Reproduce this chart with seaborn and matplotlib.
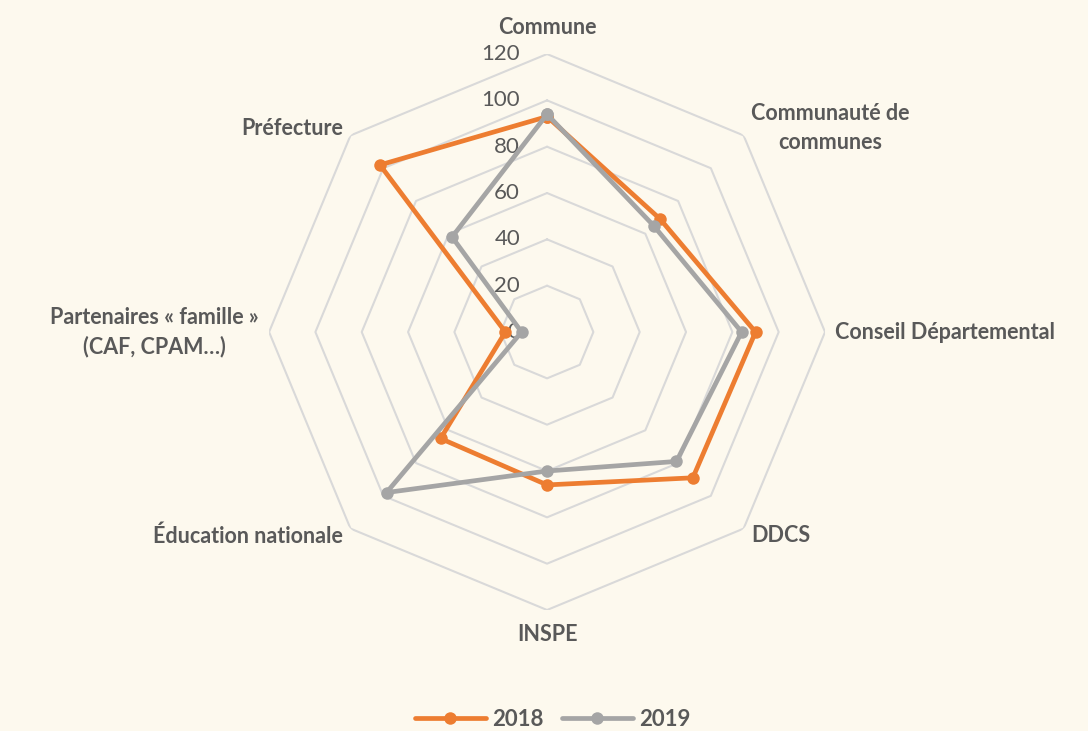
import numpy as np
import pandas as pd
import matplotlib
matplotlib.use("Agg")
import matplotlib.pyplot as plt
import matplotlib.transforms as mtransforms
import seaborn as sns

# ==========================================
# DATA
# ==========================================

categories = [
    "Commune",
    "Communauté de\ncommunes",
    "Conseil Départemental",
    "DDCS",
    "INSPE",
    "Éducation nationale",
    "Partenaires « famille »\n(CAF, CPAM…)",
    "Préfecture",
]
values_2018 = [93, 69, 90, 89, 66, 65, 18, 102]
values_2019 = [94, 65, 84, 79, 60, 98, 11, 58]
years = ["2018", "2019"]
ticks = [0, 20, 40, 60, 80, 100, 120]

# ==========================================
# STYLE
# ==========================================

bg = "#FDF9EE"
txt = "#595959"
grid_col = "#D9D9D9"
palette = {"2018": "#ED7D31", "2019": "#A5A5A5"}

sns.set_theme(style="white")
plt.rcParams["font.family"] = ["Lato", "DejaVu Sans"]

n = len(categories)
angles = np.linspace(0, 2 * np.pi, n, endpoint=False)

rows = []
for year, vals in zip(years, [values_2018, values_2019]):
    for a, v in zip(list(angles) + [2 * np.pi], vals + vals[:1]):
        rows.append({"theta": a, "value": v, "year": year})
df = pd.DataFrame(rows)

fig = plt.figure(figsize=(10.88, 7.31), dpi=100, facecolor=bg)
ax = fig.add_axes([0.2473, 0.1655, 0.511, 0.7606], projection="polar")
ax.set_facecolor(bg)
ax.set_theta_offset(np.pi / 2)
ax.set_theta_direction(-1)

# octagon grid
for t in ticks[1:]:
    ax.plot(list(angles) + [angles[0]], [t] * (n + 1), color=grid_col, lw=1.5, zorder=1)

sns.lineplot(
    data=df, x="theta", y="value", hue="year", palette=palette,
    marker="o", markersize=9, markeredgewidth=0, linewidth=3.4,
    sort=False, ax=ax, zorder=3,
)

ax.set_ylim(0, 120)
ax.grid(False)
ax.spines["polar"].set_visible(False)
ax.set_xticks([])
ax.set_yticks([])
ax.set_xlabel("")
ax.set_ylabel("")

# radial tick labels
off = mtransforms.offset_copy(ax.transData, fig=fig, x=-27, y=0, units="dots")
for t in ticks:
    ax.text(0, t, str(t), transform=off, ha="right", va="center",
            fontsize=16, color=txt, zorder=2)

# category labels
for a, lab in zip(angles, categories):
    deg = np.degrees(a) % 360
    if np.isclose(deg, 0):
        ha, va, r = "center", "bottom", 127
    elif np.isclose(deg, 180):
        ha, va, r = "center", "top", 126
    elif deg < 180:
        ha, va, r = "left", "center", 124.5
    else:
        ha, va, r = "right", "center", 124.5
    ax.text(a, r, lab, ha=ha, va=va, ma="center", fontsize=15.5,
            fontweight="bold", color=txt, linespacing=1.45, clip_on=False)

# legend
handles, labels = ax.get_legend_handles_labels()
ax.get_legend().remove()
leg = fig.legend(handles, labels, loc="lower center", bbox_to_anchor=(0.508, -0.026),
                 ncol=2, frameon=False, handlelength=3.2, columnspacing=0.8,
                 handletextpad=0.3, prop={"weight": "bold", "size": 16})
for t in leg.get_texts():
    t.set_color(txt)

fig.savefig("out.png", dpi=100, facecolor=bg)
